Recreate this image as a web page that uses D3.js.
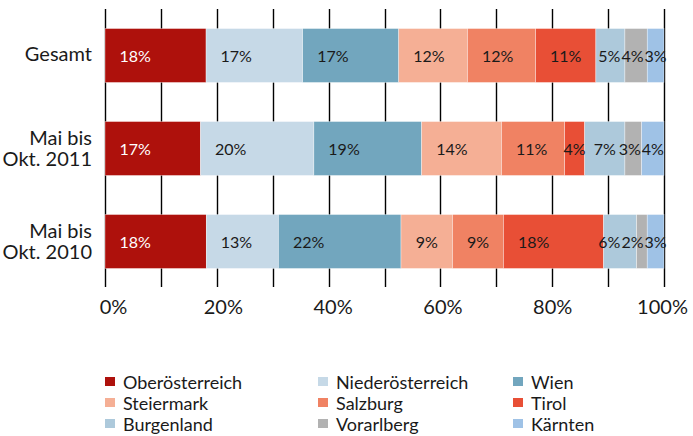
<!DOCTYPE html>
<html>
<head>
<meta charset="utf-8">
<script src="https://cdn.jsdelivr.net/npm/d3@7"></script>
<style>
body { margin: 0; background: #fff; }
svg text { font-family: Lato, "Noto Sans", sans-serif; }
</style>
</head>
<body>
<svg id="chart" width="693" height="436"></svg>
<script>
// categories (bars, top to bottom) - second line after "|"
var periods = ["Gesamt", "Mai bis|Okt. 2011", "Mai bis|Okt. 2010"];
var regions = ["Oberösterreich", "Niederösterreich", "Wien", "Steiermark", "Salzburg", "Tirol", "Burgenland", "Vorarlberg", "Kärnten"];
var regionColors = ["#ae110c", "#c6d9e7", "#72a6be", "#f5af95", "#f08263", "#e84f36", "#adc9db", "#b2b2b2", "#9fc2e6"];
// shares in percent, one array per bar, same order as regions
var gesamtValues = [18.1, 17.3, 17.2, 12.3, 12.2, 10.8, 5.2, 4.0, 3.0];
var okt2011Values = [17.1, 20.3, 19.3, 14.3, 11.3, 3.6, 7.2, 3.0, 4.0];
var okt2010Values = [18.1, 12.9, 21.9, 9.2, 9.1, 17.9, 5.9, 1.9, 3.0];
var tickValues = [0, 20, 40, 60, 80, 100];

var seriesByPeriod = [gesamtValues, okt2011Values, okt2010Values];

var svg = d3.select("#chart");
var colorScheme = d3.scaleOrdinal().domain(regions).range(regionColors);

var x = d3.scaleLinear().domain([0, 100]).range([105, 664]);
// the tick labels sit a little off the grid in the original
var xLabel = d3.scaleLinear().domain([0, 100]).range([113, 662]);
var y = d3.scaleBand().domain(periods).range([9, 288]).paddingInner(0.42).paddingOuter(0.21);

// grid lines every 10%
var gGrid = svg.append("g");
gGrid.selectAll("line")
    .data(d3.range(0, 101, 10))
    .enter()
    .append("line")
    .attr("x1", function(d){ return Math.round(x(d)) + 0.5; })
    .attr("x2", function(d){ return Math.round(x(d)) + 0.5; })
    .attr("y1", 9)
    .attr("y2", 287)
    .attr("stroke", "#000")
    .attr("stroke-width", 1.4);

// stack the segments for each bar
var rows = periods.map(function(p, i){
    var acc = 0;
    return seriesByPeriod[i].map(function(v, j){
        var seg = {period: p, region: regions[j], value: v, x0: acc, x1: acc + v};
        acc += v;
        return seg;
    });
});
// rescale so each bar fills 0..100
rows.forEach(function(r){
    var total = r[r.length - 1].x1;
    r.forEach(function(s){ s.x0 = s.x0 / total * 100; s.x1 = s.x1 / total * 100; });
});
var segments = [].concat.apply([], rows);

var gBars = svg.append("g");
gBars.selectAll("rect")
    .data(segments)
    .enter()
    .append("rect")
    .attr("x", function(d){ return x(d.x0); })
    .attr("width", function(d){ return x(d.x1) - x(d.x0); })
    .attr("y", function(d){ return y(d.period); })
    .attr("height", y.bandwidth())
    .attr("fill", function(d){ return colorScheme(d.region); })
    .attr("stroke", "#fff")
    .attr("stroke-opacity", 0.6)
    .attr("stroke-width", 0.6);

// value labels: left padded in wide segments, centered in narrow ones
var gLabels = svg.append("g");
var labels = gLabels.selectAll("text")
    .data(segments)
    .enter()
    .append("text")
    .attr("y", function(d){ return y(d.period) + y.bandwidth() / 2 + 6; })
    .style("font-size", "16px")
    .attr("fill", function(d){ return d.region == "Oberösterreich" ? "#fff" : "#1a1a1a"; })
    .text(function(d){ return Math.round(d.value) + "%"; })
    .each(function(d){
        var w = this.getComputedTextLength();
        var segW = x(d.x1) - x(d.x0);
        d.w = w;
        if (segW > w + 30) d.lx = x(d.x0) + 14.5;
        else d.lx = (x(d.x0) + x(d.x1)) / 2 - w / 2;
    });

// push small labels to the left so they don't run into each other
rows.forEach(function(r){
    for (var k = r.length - 2; k >= 0; k--) {
        var limit = r[k + 1].lx - 1;
        if (r[k].lx + r[k].w > limit) r[k].lx = limit - r[k].w;
    }
});
labels.attr("x", function(d){ return d.lx; });

// category labels on the left
var gCats = svg.append("g");
gCats.selectAll("text")
    .data(periods)
    .enter()
    .append("text")
    .attr("text-anchor", "end")
    .style("font-size", "20px")
    .attr("fill", "#1a1a1a")
    .each(function(d){
        var lines = d.split("|");
        var cy = y(d) + y.bandwidth() / 2;
        var t = d3.select(this);
        if (lines.length == 1) {
            t.append("tspan").attr("x", 92).attr("y", cy + 5).text(lines[0]);
        } else {
            t.append("tspan").attr("x", 92).attr("y", cy - 4).text(lines[0]);
            t.append("tspan").attr("x", 92).attr("y", cy + 17).text(lines[1]);
        }
    });

// x axis tick labels
var xAxis = d3.axisBottom(xLabel)
    .tickValues(tickValues)
    .tickSize(0)
    .tickFormat(function(d){ return d + "%"; });
var gAxis = svg.append("g").attr("transform", "translate(0,300)").call(xAxis);
gAxis.select(".domain").remove();
gAxis.selectAll("text")
    .attr("dy", "0.71em")
    .attr("y", 0)
    .style("font-size", "20px")
    .style("font-family", "Lato, 'Noto Sans', sans-serif")
    .attr("fill", "#1a1a1a");

// legend, 3 columns row by row
var legendCols = [105, 318, 513];
var legend = svg.append("g");
var items = legend.selectAll("g")
    .data(regions)
    .enter()
    .append("g")
    .attr("transform", function(d, i){
        return "translate(" + legendCols[i % 3] + "," + (382 + Math.floor(i / 3) * 21) + ")";
    });
items.append("rect")
    .attr("x", 0)
    .attr("y", -5)
    .attr("width", 10)
    .attr("height", 9)
    .attr("fill", function(d){ return colorScheme(d); });
items.append("text")
    .attr("x", 18)
    .attr("y", 6.5)
    .style("font-size", "18px")
    .attr("fill", "#1a1a1a")
    .text(function(d){ return d; });
</script>
</body>
</html>
